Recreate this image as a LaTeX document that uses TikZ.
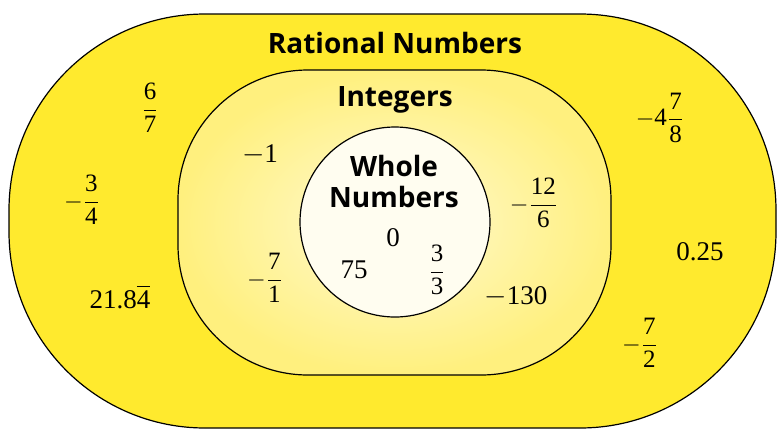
\documentclass[tikz,border=0pt]{standalone}
\usepackage{amsmath}
\usepackage{fontspec}
\setmainfont{Liberation Serif}
\newfontfamily\labelfont{Open Sans}
\usetikzlibrary{positioning}
\definecolor{ratyellow}{HTML}{FFEA2E}
\definecolor{intyellow}{HTML}{FFF07E}
\definecolor{intpale}{HTML}{FFF9D2}
\definecolor{wholecream}{HTML}{FFFDF0}
\newcommand{\fr}[2]{$\dfrac{\text{#1}}{\text{#2}}$}
\tikzset{
  setname/.style={font=\labelfont\bfseries\fontsize{14}{15.5}\selectfont, align=center},
  num/.style={font=\fontsize{13.5}{15}\selectfont, inner sep=1pt},
  fracnum/.style={font=\fontsize{12.5}{14}\selectfont, inner sep=1pt},
}

\begin{document}
\begin{tikzpicture}[x=0.5pt, y=-0.5pt]
  \useasboundingbox (0,0) rectangle (778,430);
  % Define regions
  \filldraw[fill=ratyellow, rounded corners=98pt, line width=0.6pt] (9,14) rectangle (776,428);
  \shade[rounded corners=65pt, inner color=intpale, outer color=intyellow] (178,70) rectangle (611,375);
  \draw[rounded corners=65pt, line width=0.6pt] (178,70) rectangle (611,375);
  \filldraw[fill=wholecream, line width=0.6pt] (395,222) circle (47.5pt);

  % Set names
  \node[setname] (rat) at (395,43) {Rational Numbers};
  \node[setname] (int) at (395,100) {Integers};
  \node[setname] (whole) at (394,181) {Whole\\Numbers};

  % Whole numbers
  \node[num] (zero) at (393,238) {0};
  \node[num] (sevfive) at (354,270) {75};
  \node[fracnum] (thrthr) at (437,270) {\fr{3}{3}};

  % Integers
  \node[num] (mone) at (260,155) {$-$1};
  \node[fracnum] (mtwsix) at (534,203) {$-$\fr{12}{6}};
  \node[fracnum] (msevone) at (265,278) {$-$\fr{7}{1}};
  \node[num] (mothirty) at (516,297) {$-$130};

  % Rational numbers
  \node[fracnum] (sixsev) at (150,108) {\fr{6}{7}};
  \node[fracnum] (mthrfour) at (82,200) {$-$\fr{3}{4}};
  \node[fracnum] (mfoursev) at (660,118) {$-$4\fr{7}{8}};
  \node[num] (twoone) at (120,297) {21.8$\overline{\text{4}}$};
  \node[num] (qtr) at (700,252) {0.25};
  \node[fracnum] (msevtwo) at (640,343) {$-$\fr{7}{2}};
\end{tikzpicture}
\end{document}
